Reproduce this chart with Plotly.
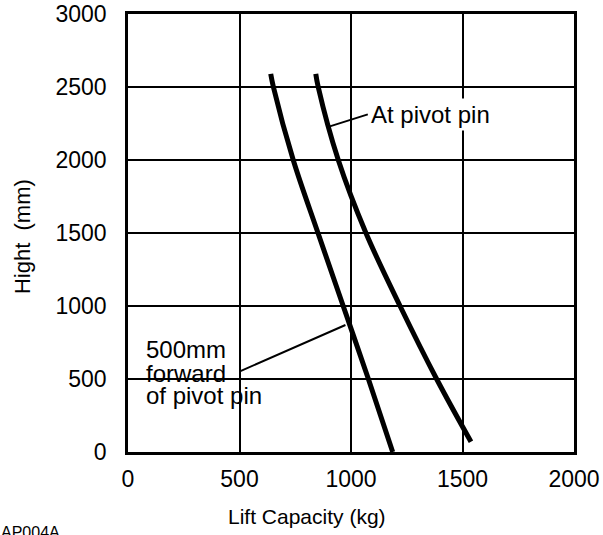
import plotly.graph_objects as go

# Data
heights_forward = [2590, 2500, 2000, 1500, 1000, 500, 0]
capacity_forward = [640, 652, 741, 852, 965, 1078, 1187]

heights_pivot = [2590, 2500, 2000, 1500, 1000, 500, 70]
capacity_pivot = [842, 853, 943, 1067, 1220, 1384, 1538]

x_ticks = [0, 500, 1000, 1500, 2000]
y_ticks = [0, 500, 1000, 1500, 2000, 2500, 3000]

FONT = "Liberation Sans, Arial, Helvetica, sans-serif"

fig = go.Figure()
fig.add_trace(go.Scatter(x=capacity_forward, y=heights_forward, mode="lines",
                         line=dict(color="black", width=5, shape="spline"),
                         name="500mm forward of pivot pin", showlegend=False))
fig.add_trace(go.Scatter(x=capacity_pivot, y=heights_pivot, mode="lines",
                         line=dict(color="black", width=5, shape="spline"),
                         name="At pivot pin", showlegend=False))

axis_common = dict(showgrid=True, gridcolor="black", gridwidth=2,
                   showline=True, linecolor="black", linewidth=2.5, mirror=True,
                   zeroline=False, ticks="", automargin=False,
                   tickfont=dict(size=23, color="black", family=FONT),
                   fixedrange=True)

fig.update_xaxes(range=[0, 2000], tickvals=x_ticks, ticklabelstandoff=5, **axis_common)
fig.update_yaxes(range=[0, 3000], tickvals=y_ticks, ticklabelstandoff=14, **axis_common)

# white patch behind the lower-left label (grid is interrupted there)
fig.add_shape(type="rect", xref="x", yref="y", x0=8, x1=645, y0=255, y1=840,
              fillcolor="white", line=dict(width=0), layer="below")

ann_font = dict(size=24, color="black", family=FONT)

# "At pivot pin" label with leader
fig.add_annotation(x=905, y=2230, xref="x", yref="y", text="At pivot pin",
                   showarrow=True, arrowhead=0, arrowwidth=2, arrowcolor="black",
                   ax=38, ay=-12, xanchor="left", yanchor="middle",
                   bgcolor="white", borderpad=2, font=ann_font)

# leader line for "500mm forward of pivot pin"
fig.add_annotation(x=975, y=870, xref="x", yref="y", text=" ",
                   showarrow=True, arrowhead=0, arrowwidth=2, arrowcolor="black",
                   ax=-107, ay=47, font=dict(size=2))

for txt, yv in [("500mm", 701), ("forward", 541), ("of pivot pin", 386)]:
    fig.add_annotation(x=72, y=yv, xref="x", yref="y", text=txt, showarrow=False,
                       xanchor="left", yanchor="middle", font=ann_font)

# axis titles
fig.add_annotation(x=0.401, y=-0.148, xref="paper", yref="paper",
                   text="Lift Capacity (kg)", showarrow=False,
                   xanchor="center", yanchor="middle", font=dict(size=21, color="black", family=FONT))
fig.add_annotation(x=-0.2377, y=0.493, xref="paper", yref="paper",
                   text="Hight\u00a0 (mm)", textangle=-90, showarrow=False,
                   xanchor="center", yanchor="middle", font=dict(size=22, color="black", family=FONT))

# figure code at bottom-left
fig.add_annotation(x=-0.289, y=-0.16, xref="paper", yref="paper",
                   text="AP004A", showarrow=False,
                   xanchor="left", yanchor="top", font=dict(size=16, color="black", family=FONT))

fig.update_layout(width=603, height=535, autosize=False,
                  margin=dict(l=128, r=29, t=14, b=83, autoexpand=False),
                  plot_bgcolor="white", paper_bgcolor="white",
                  showlegend=False)

fig.write_html("out.html", config={"displayModeBar": False},
               post_script="document.body.style.margin='0';document.body.style.padding='0';")
